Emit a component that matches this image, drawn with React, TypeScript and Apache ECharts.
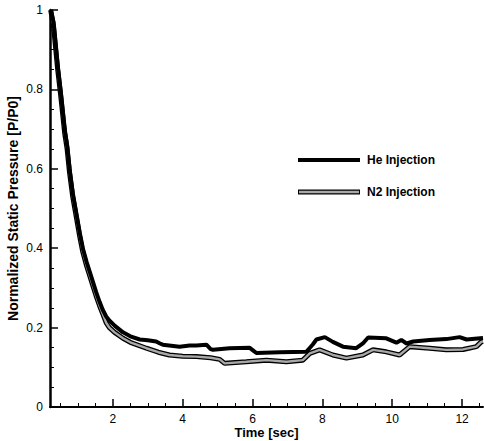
import React, { useEffect, useRef } from "react";
import * as echarts from "echarts";

const heTime = [0.22, 0.3, 0.42, 0.5, 0.62, 0.69, 0.76, 0.85, 0.95, 1.05, 1.14, 1.25, 1.43, 1.52, 1.62, 1.71, 1.81, 1.9, 2.05, 2.29, 2.5, 2.77, 3.0, 3.24, 3.35, 3.43, 3.91, 4.2, 4.39, 4.68, 4.8, 4.87, 5.34, 5.92, 6.05, 6.11, 6.78, 7.54, 7.65, 7.73, 7.83, 8.07, 8.3, 8.59, 8.97, 9.16, 9.31, 9.83, 10.12, 10.26, 10.41, 10.6, 11.07, 11.55, 11.93, 12.13, 12.6];
const heValues = [1.0, 0.97, 0.86, 0.8, 0.7, 0.66, 0.6, 0.54, 0.49, 0.44, 0.4, 0.365, 0.315, 0.29, 0.265, 0.245, 0.228, 0.218, 0.205, 0.188, 0.178, 0.17, 0.168, 0.165, 0.16, 0.157, 0.152, 0.155, 0.155, 0.157, 0.146, 0.144, 0.148, 0.149, 0.14, 0.136, 0.138, 0.139, 0.15, 0.158, 0.17, 0.176, 0.164, 0.152, 0.148, 0.16, 0.175, 0.173, 0.162, 0.169, 0.16, 0.165, 0.169, 0.171, 0.176, 0.17, 0.174];

const n2Time = [0.22, 0.3, 0.42, 0.5, 0.62, 0.69, 0.76, 0.85, 0.95, 1.05, 1.14, 1.25, 1.43, 1.52, 1.62, 1.71, 1.81, 1.9, 2.05, 2.29, 2.5, 2.96, 3.3, 3.62, 4.0, 4.39, 4.8, 5.06, 5.2, 5.82, 6.4, 6.97, 7.44, 7.64, 7.92, 8.3, 8.69, 9.16, 9.45, 9.83, 10.21, 10.5, 11.07, 11.55, 12.03, 12.41, 12.55, 12.6];
const n2Values = [1.0, 0.96, 0.85, 0.79, 0.69, 0.65, 0.59, 0.53, 0.48, 0.43, 0.39, 0.355, 0.305, 0.28, 0.255, 0.235, 0.212, 0.2, 0.188, 0.173, 0.163, 0.148, 0.138, 0.131, 0.128, 0.127, 0.124, 0.12, 0.11, 0.114, 0.118, 0.114, 0.118, 0.135, 0.144, 0.131, 0.123, 0.131, 0.144, 0.139, 0.131, 0.152, 0.148, 0.144, 0.145, 0.152, 0.164, 0.165];

const xMajorTicks = [2, 4, 6, 8, 10, 12];
const xMinorTicks = [0.5, 1, 1.5, 2.5, 3, 3.5, 4.5, 5, 5.5, 6.5, 7, 7.5, 8.5, 9, 9.5, 10.5, 11, 11.5, 12.5];

const seriesNames = ["He Injection", "N2 Injection"];
const xTitle = "Time [sec]";
const yTitle = "Normalized Static Pressure [P/P0]";

const FONT = "'Liberation Sans', Arial, sans-serif";

export default function App() {
  const ref = useRef<HTMLDivElement>(null);
  useEffect(() => {
    if (!ref.current) return;
    const chart = echarts.init(ref.current, undefined, { renderer: "svg" });
    const he = heTime.map((t, i) => [t, heValues[i]]);
    const n2 = n2Time.map((t, i) => [t, n2Values[i]]);
    const lx0 = 298, lx1 = 360, ly1 = 160, ly2 = 192;
    chart.setOption({
      animation: false,
      backgroundColor: "#ffffff",
      grid: { left: 50, top: 10, right: 1, bottom: 34, containLabel: false, outerBoundsMode: "none" },
      xAxis: [
        {
          type: "value",
          min: 0.2,
          max: 12.6,
          name: xTitle,
          nameLocation: "middle",
          nameGap: 19,
          nameMoveOverlap: false,
          nameTextStyle: { fontFamily: FONT, fontWeight: "bold", fontSize: 13, color: "#000" },
          axisLine: { show: true, lineStyle: { color: "#000", width: 2 } },
          axisTick: { show: true, inside: true, length: 8, customValues: xMajorTicks, lineStyle: { color: "#000", width: 1.5 } },
          axisLabel: { customValues: xMajorTicks, fontFamily: FONT, fontSize: 12, color: "#000", margin: 6 },
          splitLine: { show: false },
        },
        {
          type: "value",
          min: 0.2,
          max: 12.6,
          position: "bottom",
          axisLine: { show: false },
          axisTick: { show: true, inside: true, length: 4, customValues: xMinorTicks, lineStyle: { color: "#000", width: 1 } },
          axisLabel: { show: false },
          splitLine: { show: false },
        },
      ],
      yAxis: {
        type: "value",
        min: 0,
        max: 1,
        interval: 0.2,
        name: yTitle,
        nameLocation: "middle",
        nameGap: 30,
        nameMoveOverlap: false,
        nameTextStyle: { fontFamily: FONT, fontWeight: "bold", fontSize: 14, color: "#000" },
        axisLine: { show: true, lineStyle: { color: "#000", width: 2.5 } },
        axisTick: { show: true, inside: true, length: 8, lineStyle: { color: "#000", width: 1.5 } },
        minorTick: { show: true, splitNumber: 4, length: 4, lineStyle: { color: "#000", width: 1 } },
        axisLabel: { fontFamily: FONT, fontSize: 12, color: "#000", margin: 7, formatter: (v: number) => String(Math.round(v * 10) / 10) },
        splitLine: { show: false },
      },
      series: [
        {
          name: seriesNames[1],
          type: "line",
          data: n2,
          showSymbol: false,
          lineStyle: { color: "#000", width: 5 },
          z: 2,
        },
        {
          name: seriesNames[1] + " fill",
          type: "line",
          data: n2,
          showSymbol: false,
          lineStyle: { color: "#a8a8a8", width: 2.4 },
          z: 3,
        },
        {
          name: seriesNames[0],
          type: "line",
          data: he,
          showSymbol: false,
          lineStyle: { color: "#000", width: 4 },
          z: 4,
        },
      ],
      graphic: [
        { type: "line", shape: { x1: lx0, y1: ly1, x2: lx1, y2: ly1 }, style: { stroke: "#000", lineWidth: 4 } },
        { type: "text", x: 367, y: ly1, style: { text: seriesNames[0], fontFamily: FONT, fontWeight: "bold", fontSize: 12, fill: "#000", verticalAlign: "middle" } },
        { type: "line", shape: { x1: lx0, y1: ly2, x2: lx1, y2: ly2 }, style: { stroke: "#000", lineWidth: 5 } },
        { type: "line", shape: { x1: lx0 + 1, y1: ly2, x2: lx1 - 1, y2: ly2 }, style: { stroke: "#a8a8a8", lineWidth: 2.4 } },
        { type: "text", x: 367, y: ly2, style: { text: seriesNames[1], fontFamily: FONT, fontWeight: "bold", fontSize: 12, fill: "#000", verticalAlign: "middle" } },
      ],
    });
    return () => chart.dispose();
  }, []);
  return (
    <div
      ref={ref}
      style={{ position: "fixed", left: 0, top: 0, width: 484, height: 441, background: "#fff" }}
    />
  );
}
